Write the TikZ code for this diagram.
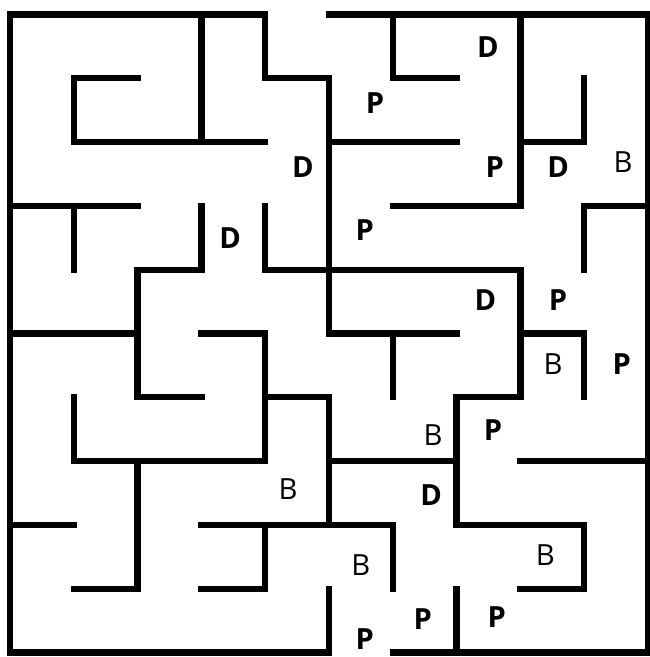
\documentclass[tikz,border=0pt]{standalone}
\usepackage{fontspec}
\setmainfont{Open Sans}
\begin{document}
\begin{tikzpicture}[wall/.style={line width=2.8pt, line cap=rect, line join=miter},
        boldtag/.style={font=\fontsize{13}{13}\selectfont\bfseries, inner sep=0pt},
        plaintag/.style={font=\fontsize{13}{13}\selectfont, inner sep=0pt}]
            \useasboundingbox (-0.157,0.227) rectangle (10.031,-10.071);
            % outer walls
            \draw[wall] (5,-9) -- (5,-10) -- (0,-10) -- (0,0) -- (4,0) -- (4,-1) -- (5,-1) -- (5,-5) -- (7,-5);
            \draw[wall] (6,-5) -- (6,-6);
            \draw[wall] (5,0) -- (10,0) -- (10,-10) -- (6,-10);
            \draw[wall] (7,-9) -- (7,-10);
            % inner walls
            \draw[wall] (3,0) -- (3,-2);
            \draw[wall] (2,-1) -- (1,-1) -- (1,-2) -- (4,-2);
            \draw[wall] (0,-3) -- (2,-3);
            \draw[wall] (1,-3) -- (1,-4);
            \draw[wall] (3,-3) -- (3,-4) -- (2,-4) -- (2,-6) -- (3,-6);
            \draw[wall] (0,-5) -- (2,-5);
            \draw[wall] (4,-3) -- (4,-4) -- (8,-4) -- (8,-6) -- (7,-6) -- (7,-8) -- (9,-8) -- (9,-9) -- (8,-9);
            \draw[wall] (8,-5) -- (9,-5) -- (9,-6);
            \draw[wall] (5,-7) -- (7,-7);
            \draw[wall] (6,0) -- (6,-1) -- (7,-1);
            \draw[wall] (5,-2) -- (7,-2);
            \draw[wall] (8,0) -- (8,-3) -- (6,-3);
            \draw[wall] (8,-2) -- (9,-2) -- (9,-1);
            \draw[wall] (10,-3) -- (9,-3) -- (9,-4);
            \draw[wall] (3,-5) -- (4,-5) -- (4,-7) -- (1,-7) -- (1,-6);
            \draw[wall] (4,-6) -- (5,-6) -- (5,-8);
            \draw[wall] (2,-7) -- (2,-9) -- (1,-9);
            \draw[wall] (0,-8) -- (1,-8);
            \draw[wall] (3,-8) -- (6,-8) -- (6,-9);
            \draw[wall] (4,-8) -- (4,-9) -- (3,-9);
            \draw[wall] (8,-7) -- (10,-7);
            % labels
            \node[boldtag] (d1) at (7.49,-0.51) {D};
            \node[boldtag] (p1) at (5.72,-1.39) {P};
            \node[boldtag] (d2) at (4.59,-2.39) {D};
            \node[boldtag] (p2) at (7.60,-2.39) {P};
            \node[boldtag] (d3) at (8.59,-2.39) {D};
            \node[plaintag] (b1) at (9.61,-2.31) {B};
            \node[boldtag] (d4) at (3.45,-3.50) {D};
            \node[boldtag] (p3) at (5.56,-3.38) {P};
            \node[boldtag] (d5) at (7.45,-4.47) {D};
            \node[boldtag] (p4) at (8.59,-4.47) {P};
            \node[plaintag] (b2) at (8.51,-5.48) {B};
            \node[boldtag] (p5) at (9.59,-5.48) {P};
            \node[plaintag] (b3) at (6.63,-6.59) {B};
            \node[boldtag] (p6) at (7.57,-6.51) {P};
            \node[plaintag] (b4) at (4.36,-7.44) {B};
            \node[boldtag] (d6) at (6.60,-7.53) {D};
            \node[plaintag] (b5) at (5.50,-8.63) {B};
            \node[plaintag] (b6) at (8.39,-8.47) {B};
            \node[boldtag] (p7) at (6.47,-9.47) {P};
            \node[boldtag] (p8) at (7.63,-9.44) {P};
            \node[boldtag] (p9) at (5.56,-9.79) {P};
\end{tikzpicture}
\end{document}
